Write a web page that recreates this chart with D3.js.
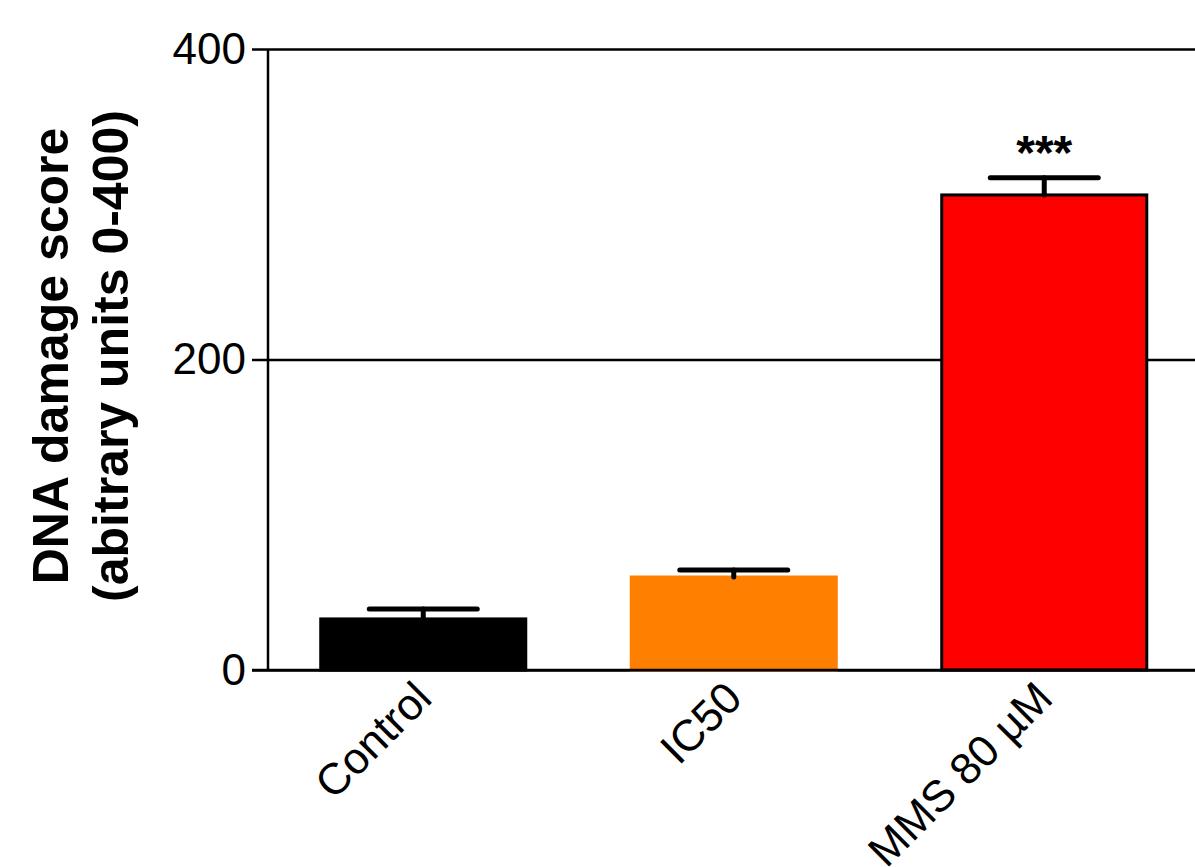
<!DOCTYPE html>
<html>
<head>
<meta charset="utf-8">
<script src="https://cdn.jsdelivr.net/npm/d3@7"></script>
<style>
  html, body { margin: 0; padding: 0; background: #fff; }
  svg { display: block; font-family: "Liberation Sans", Arial, sans-serif; }
</style>
</head>
<body>
<svg id="chart" width="1195" height="867"></svg>
<script>
const categories = ["Control", "IC50", "MMS 80 µM"];
const means = [32.9, 59.9, 306];
const errors = [6.4, 4.5, 11];
const colors = ["#000000", "#FF8000", "#FF0000"];
const strokes = ["#000000", "#FF8000", "#000000"];
const significance = ["", "", "***"];
const yTicks = [0, 200, 400];
const yTitle = ["DNA damage score", "(abitrary units 0-400)"];

const svg = d3.select("#chart");
const x0 = 268, yBottom = 670, yTop = 49;

const x = d3.scaleBand().domain(categories)
  .range([x0, x0 + 931.5]).paddingInner(0.33).paddingOuter(0.165);
const y = d3.scaleLinear().domain([0, 400]).range([yBottom, yTop]);

// gridlines / ticks (extend across plot)
const yAxis = d3.axisLeft(y).tickValues(yTicks).tickSize(16).tickPadding(6);
const gy = svg.append("g").attr("transform", `translate(${x0},0)`).call(yAxis);
gy.select(".domain").remove();
gy.selectAll(".tick line").attr("stroke", "#000").attr("stroke-width", 2.5)
  .attr("x2", -16).attr("x1", 1195 - x0);
gy.selectAll(".tick text").attr("font-size", 44).attr("fill", "#000")
  .attr("font-family", "'Liberation Sans', Arial, sans-serif");

// y axis line
svg.append("line").attr("x1", x0).attr("x2", x0)
  .attr("y1", y(0)).attr("y2", y(400)).attr("stroke", "#000").attr("stroke-width", 2.5);

// bars
const data = categories.map((c, i) => ({ c, m: means[i], e: errors[i], fill: colors[i], stroke: strokes[i], sig: significance[i] }));
svg.append("g").selectAll("rect").data(data).enter().append("rect")
  .attr("x", d => x(d.c) + 1.5)
  .attr("width", x.bandwidth() - 3)
  .attr("y", d => y(d.m))
  .attr("height", d => y(0) - y(d.m))
  .attr("fill", d => d.fill)
  .attr("stroke", d => d.stroke)
  .attr("stroke-width", 3);

// error bars
const eg = svg.append("g").attr("stroke", "#000").attr("stroke-width", 5).attr("stroke-linecap", "round");
data.forEach(d => {
  const cx = x(d.c) + x.bandwidth() / 2;
  eg.append("line").attr("x1", cx).attr("x2", cx).attr("y1", y(d.m)).attr("y2", y(d.m + d.e));
  eg.append("line").attr("x1", cx - 54).attr("x2", cx + 54).attr("y1", y(d.m + d.e)).attr("y2", y(d.m + d.e));
});

// x axis baseline
svg.append("line").attr("x1", x0 - 16).attr("x2", 1195)
  .attr("y1", y(0)).attr("y2", y(0)).attr("stroke", "#000").attr("stroke-width", 2.5);

// significance
svg.append("g").selectAll("text").data(data.filter(d => d.sig)).enter().append("text")
  .attr("x", d => x(d.c) + x.bandwidth() / 2)
  .attr("y", d => y(d.m + d.e) - 9)
  .attr("text-anchor", "middle")
  .attr("font-size", 48)
  .attr("font-weight", "bold")
  .text(d => d.sig);

// category labels
const xAxis = d3.axisBottom(x).tickSize(0).tickPadding(0);
const gx = svg.append("g").attr("transform", `translate(0,${yBottom})`).call(xAxis);
gx.select(".domain").remove();
gx.selectAll(".tick text")
  .attr("font-size", 44).attr("fill", "#000")
  .attr("font-family", "'Liberation Sans', Arial, sans-serif")
  .attr("text-anchor", "end")
  .attr("dy", null).attr("y", 0)
  .attr("transform", "translate(-12,8) rotate(-45)")
  .attr("dominant-baseline", "hanging");

// y title
const tg = svg.append("text").attr("transform", "translate(68,356) rotate(-90)")
  .attr("text-anchor", "middle").attr("font-weight", "bold").attr("font-size", 50);
tg.append("tspan").attr("x", 0).attr("y", 0).text(yTitle[0]);
tg.append("tspan").attr("x", 0).attr("y", 60).text(yTitle[1]);
</script>
</body>
</html>
